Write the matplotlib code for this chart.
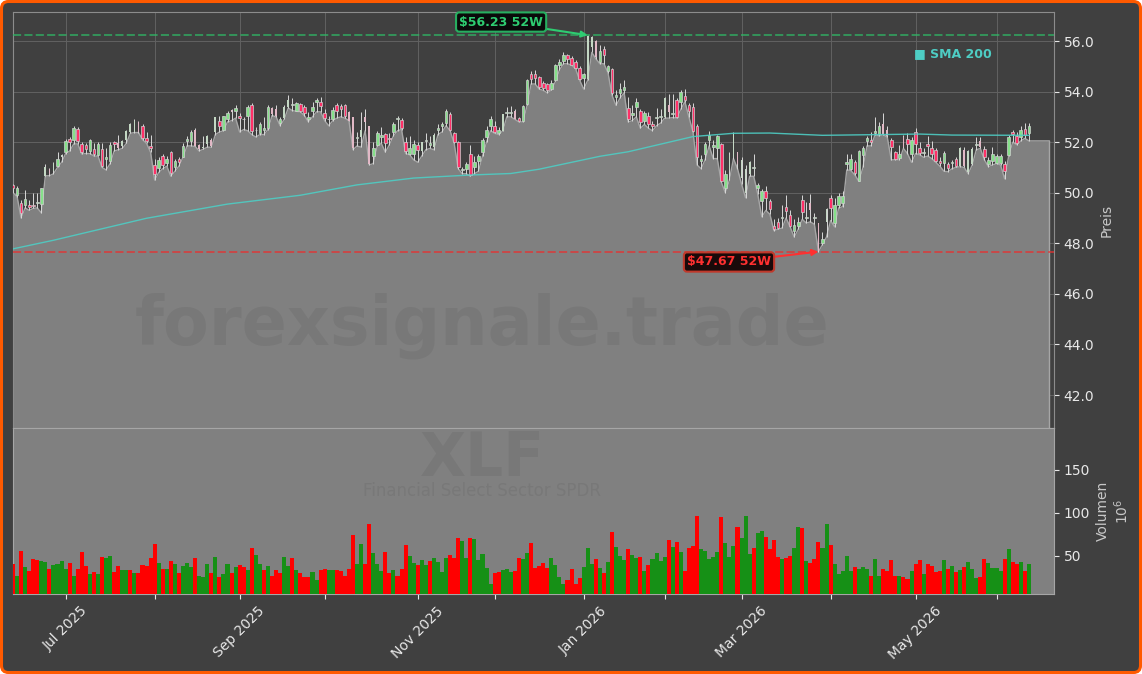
import matplotlib
matplotlib.use('Agg')
import matplotlib.pyplot as plt
from matplotlib.patches import FancyBboxPatch, Rectangle
from matplotlib.transforms import IdentityTransform
import numpy as np

# Kursdaten, 252 Handelstage
opens = [
    50.3, 49.92, 49.6, 49.5, 49.5, 49.5, 49.6, 49.55, 50.67, 50.95,
    50.87, 51.07, 51.4, 51.6, 52.12, 52.08, 52.52, 51.93, 51.87, 51.65,
    51.73, 51.5, 51.73, 51.32, 51.24, 52.0, 51.97, 51.85, 52.1, 52.4,
    52.4, 52.8, 52.65, 52.15, 51.85, 51.1, 50.97, 51.45, 51.18, 51.6,
    51.03, 51.33, 51.43, 52.03, 52.06, 52.5, 51.9, 51.75, 51.93, 52.1,
    52.4, 52.85, 52.48, 52.9, 53.27, 53.25, 53.05, 52.93, 53.05, 53.45,
    52.5, 52.37, 52.5, 52.55, 53.35, 53.3, 52.75, 52.95, 53.4, 53.45,
    53.22, 53.5, 53.4, 52.9, 53.25, 53.6, 53.6, 53.15, 52.93, 52.92,
    53.48, 53.43, 53.45, 53.2, 53.0, 52.15, 52.2, 53.0, 52.65, 51.45,
    51.9, 52.2, 52.32, 52.15, 52.4, 52.9, 52.88, 52.0, 51.55, 51.55,
    51.88, 51.65, 52.05, 51.9, 51.8, 52.5, 52.65, 52.75, 53.1, 52.35,
    52.0, 50.9, 50.95, 51.55, 51.0, 51.25, 51.63, 52.2, 52.62, 52.63,
    52.35, 52.45, 53.15, 53.15, 53.25, 52.95, 52.85, 53.5, 54.68, 54.7,
    54.57, 54.33, 54.3, 54.1, 54.45, 55.07, 55.22, 55.43, 55.33, 55.15,
    54.95, 54.55, 54.5, 55.75, 56.0, 55.15, 55.7, 54.8, 54.9, 53.78,
    53.93, 54.07, 53.35, 53.08, 53.38, 53.22, 52.82, 53.05, 52.7, 52.95,
    53.0, 53.0, 53.47, 53.1, 53.67, 53.58, 53.83, 53.45, 53.4, 52.65,
    51.25, 51.55, 52.08, 51.82, 51.75, 51.92, 50.18, 50.9, 51.4, 51.6,
    50.6, 50.0, 50.75, 50.98, 50.17, 49.67, 50.05, 49.67, 48.7, 48.85,
    49.0, 49.45, 49.12, 48.48, 48.7, 49.7, 49.0, 49.6, 49.0, 48.8,
    48.0, 48.85, 49.8, 48.8, 49.5, 49.6, 51.15, 50.93, 51.2, 50.47,
    51.5, 52.05, 52.1, 52.38, 52.33, 52.7, 52.5, 52.1, 51.6, 51.38,
    52.2, 52.12, 51.55, 52.4, 51.75, 51.57, 51.92, 51.78, 51.7, 51.25,
    51.17, 51.13, 51.18, 51.33, 51.07, 51.7, 50.8, 51.13, 51.88, 52.03,
    51.73, 51.15, 51.27, 51.18, 51.18, 51.13, 51.5, 52.4, 52.25, 52.2,
    52.52, 52.35,
]
closes = [
    50.2, 50.2, 49.2, 49.75, 49.45, 49.48, 49.6, 50.2, 51.0, 50.75,
    51.17, 51.33, 51.5, 52.05, 52.0, 52.56, 52.03, 51.6, 51.73, 52.08,
    51.55, 51.93, 51.05, 51.43, 51.9, 51.93, 51.77, 52.05, 52.45, 52.72,
    52.85, 52.4, 52.15, 52.05, 51.75, 50.75, 51.3, 51.1, 51.33, 50.77,
    51.25, 51.2, 51.85, 52.13, 52.42, 51.83, 51.73, 51.8, 52.25, 51.85,
    53.0, 52.65, 53.02, 53.17, 53.2, 53.35, 52.95, 52.9, 53.4, 52.45,
    52.47, 52.72, 52.55, 53.4, 53.1, 53.05, 52.9, 53.4, 53.65, 53.5,
    53.55, 53.25, 53.15, 53.0, 53.4, 53.67, 53.42, 52.95, 52.9, 53.27,
    53.22, 53.3, 53.05, 52.85, 51.75, 52.2, 52.5, 52.8, 51.15, 51.75,
    52.35, 52.28, 51.95, 52.12, 52.7, 52.95, 52.55, 51.65, 51.75, 51.93,
    51.7, 52.0, 52.1, 51.95, 52.3, 52.55, 52.72, 53.22, 52.5, 52.0,
    51.03, 50.95, 51.15, 50.7, 51.2, 51.45, 52.08, 52.5, 52.9, 52.4,
    52.5, 53.1, 53.2, 53.2, 52.9, 52.82, 53.42, 54.45, 54.5, 54.55,
    54.17, 54.15, 54.05, 54.35, 55.05, 55.17, 55.45, 55.3, 55.07, 54.95,
    54.5, 54.7, 56.2, 56.15, 55.35, 55.6, 55.45, 55.0, 53.93, 53.87,
    54.1, 54.17, 52.92, 53.17, 53.57, 52.78, 53.15, 52.7, 52.65, 53.0,
    53.05, 53.75, 53.2, 53.15, 53.0, 54.0, 53.65, 53.25, 52.45, 51.4,
    51.35, 51.93, 52.3, 51.88, 52.25, 50.47, 50.75, 51.5, 52.35, 51.13,
    51.3, 50.95, 51.2, 51.0, 50.3, 50.05, 49.78, 49.35, 48.55, 48.6,
    49.02, 49.28, 48.7, 48.72, 48.85, 49.25, 49.05, 49.3, 49.05, 47.7,
    48.15, 49.35, 49.4, 49.5, 49.88, 49.88, 51.2, 51.33, 50.78, 51.65,
    51.75, 52.15, 52.0, 52.43, 52.65, 52.33, 52.25, 51.8, 51.35, 51.55,
    51.8, 51.92, 52.1, 51.93, 51.57, 51.6, 51.83, 51.55, 51.25, 51.17,
    51.58, 50.97, 51.2, 51.07, 51.77, 51.07, 51.65, 51.73, 51.92, 51.8,
    51.4, 51.28, 51.55, 51.45, 51.45, 50.85, 52.2, 52.32, 51.95, 52.48,
    52.28, 52.65,
]
highs = [
    50.35, 50.26, 49.7, 50.1, 49.7, 50.0, 50.0, 50.2, 51.15, 50.97,
    51.2, 51.6, 51.55, 52.12, 52.2, 52.65, 52.6, 52.0, 51.97, 52.12,
    51.95, 52.0, 51.95, 51.75, 52.0, 52.05, 52.3, 52.1, 52.5, 52.75,
    52.9, 52.85, 52.7, 52.4, 52.3, 51.35, 51.4, 51.55, 51.45, 51.65,
    51.35, 51.4, 51.95, 52.25, 52.5, 52.55, 51.93, 52.25, 52.28, 52.15,
    53.0, 53.05, 53.05, 53.25, 53.3, 53.45, 53.15, 53.0, 53.45, 53.55,
    52.6, 52.8, 53.0, 53.45, 53.4, 53.45, 53.0, 53.45, 53.85, 53.75,
    53.6, 53.55, 53.45, 53.2, 53.6, 53.75, 53.8, 53.3, 53.05, 53.4,
    53.55, 53.5, 53.5, 53.25, 53.0, 52.4, 53.2, 53.3, 52.65, 52.0,
    52.45, 52.6, 52.35, 52.38, 52.78, 53.05, 52.95, 52.2, 52.25, 52.1,
    52.0, 52.0, 52.35, 52.25, 52.35, 52.7, 52.8, 53.3, 53.2, 52.4,
    52.05, 51.0, 51.2, 51.88, 51.45, 51.55, 52.15, 52.65, 53.05, 52.85,
    52.6, 53.1, 53.4, 53.42, 53.3, 53.0, 53.45, 54.5, 54.8, 54.85,
    54.6, 54.4, 54.35, 54.45, 55.1, 55.3, 55.55, 55.5, 55.4, 55.25,
    55.0, 54.75, 56.23, 56.2, 56.05, 55.85, 55.8, 55.05, 54.95, 54.05,
    54.35, 54.45, 53.78, 53.45, 53.75, 53.3, 53.25, 53.2, 52.85, 53.35,
    53.3, 53.8, 53.9, 53.9, 53.75, 54.05, 54.1, 53.55, 53.55, 52.7,
    51.5, 52.0, 52.45, 52.1, 52.3, 51.95, 50.9, 51.6, 52.4, 51.6,
    51.4, 51.1, 51.25, 51.55, 50.4, 50.15, 50.25, 49.75, 48.95, 49.0,
    49.5, 49.9, 49.3, 48.95, 49.05, 49.9, 49.65, 49.95, 49.2, 48.8,
    48.45, 49.4, 49.9, 49.8, 50.0, 50.05, 51.55, 51.55, 51.3, 51.7,
    51.85, 52.25, 52.4, 52.98, 52.8, 53.15, 52.65, 52.15, 51.65, 51.9,
    52.3, 52.35, 52.2, 52.55, 52.0, 51.75, 52.25, 52.05, 51.75, 51.4,
    51.65, 51.2, 51.3, 51.4, 51.8, 51.8, 51.7, 51.8, 52.2, 52.2,
    51.85, 51.4, 51.8, 51.55, 51.55, 51.25, 52.3, 52.5, 52.4, 52.65,
    52.75, 52.75,
]
lows = [
    50.0, 49.85, 49.0, 49.4, 49.3, 49.38, 49.4, 49.2, 50.67, 50.67,
    50.75, 51.0, 51.2, 51.55, 51.65, 51.93, 51.93, 51.53, 51.55, 51.55,
    51.45, 51.45, 51.0, 50.9, 51.15, 51.65, 51.7, 51.75, 51.95, 52.35,
    52.38, 52.38, 52.1, 51.95, 51.6, 50.5, 50.8, 50.95, 51.05, 50.65,
    50.85, 51.05, 51.4, 51.85, 51.85, 51.83, 51.65, 51.72, 51.8, 51.8,
    52.3, 52.4, 52.45, 52.8, 52.85, 52.95, 52.4, 52.5, 52.45, 52.3,
    52.2, 52.3, 52.3, 52.5, 53.05, 53.0, 52.65, 52.9, 53.35, 53.25,
    53.22, 53.2, 53.05, 52.8, 53.0, 53.2, 53.2, 52.85, 52.65, 52.85,
    52.95, 53.0, 52.95, 52.85, 51.7, 51.85, 51.8, 52.45, 51.1, 51.15,
    51.85, 51.95, 51.6, 51.9, 52.25, 52.45, 52.5, 51.55, 51.5, 51.3,
    51.2, 51.45, 51.7, 51.75, 51.7, 52.3, 52.4, 52.65, 52.45, 51.95,
    50.95, 50.75, 50.75, 50.65, 50.75, 50.85, 51.45, 52.0, 52.45, 52.35,
    52.3, 52.45, 53.0, 53.0, 52.9, 52.8, 52.8, 53.45, 54.3, 54.3,
    54.1, 54.05, 53.95, 54.05, 54.4, 54.85, 55.1, 55.1, 55.05, 54.9,
    54.45, 54.1, 54.45, 55.55, 55.3, 55.1, 55.1, 54.75, 53.85, 53.45,
    53.75, 53.95, 52.8, 52.85, 53.0, 52.55, 52.7, 52.55, 52.45, 52.65,
    52.75, 52.95, 52.95, 52.97, 52.95, 53.3, 53.6, 53.0, 52.4, 51.1,
    50.95, 51.3, 51.85, 51.35, 51.35, 50.42, 50.0, 50.5, 51.35, 50.95,
    50.35, 49.8, 50.65, 50.65, 49.95, 49.05, 49.3, 49.15, 48.5, 48.55,
    48.6, 49.0, 48.65, 48.25, 48.55, 48.95, 48.8, 48.85, 48.75, 47.67,
    47.95, 48.25, 48.9, 48.65, 49.4, 49.45, 50.9, 50.88, 50.7, 50.45,
    51.0, 51.85, 51.85, 52.3, 52.25, 52.3, 52.2, 51.3, 51.3, 51.3,
    51.75, 51.55, 51.2, 51.55, 51.5, 51.4, 51.45, 51.35, 51.2, 51.05,
    50.85, 50.83, 50.95, 51.0, 51.03, 51.0, 50.75, 51.1, 51.7, 51.75,
    51.3, 51.03, 51.1, 51.15, 51.1, 50.55, 51.45, 52.0, 51.9, 52.05,
    52.15, 52.05,
]
# Kerzen, die im Original blass und ohne Rand erscheinen
pale_days = [8, 9, 10, 12, 26, 27, 28, 29, 30, 31, 45, 46, 47, 48, 49, 50, 54, 64, 65, 67, 68,
             83, 84, 86, 87, 88, 101, 104, 121, 124, 142, 143, 144, 161, 162,
             177, 178, 179, 180, 181, 182, 197, 199, 201, 215, 216, 220, 234, 235, 236, 237, 239]

volumes = [
    40, 26, 56, 37, 32, 46, 45, 44, 43, 34,
    39, 40, 44, 34, 41, 26, 34, 54, 38, 29,
    31, 29, 48, 47, 50, 31, 38, 33, 33, 33,
    30, 30, 39, 38, 47, 64, 41, 34, 34, 44,
    40, 30, 38, 41, 37, 47, 26, 25, 40, 30,
    48, 25, 29, 40, 30, 37, 39, 37, 33, 59,
    51, 40, 33, 38, 26, 33, 30, 48, 38, 47,
    33, 30, 25, 25, 31, 22, 33, 34, 33, 33,
    33, 32, 27, 34, 74, 40, 64, 40, 87, 53,
    40, 32, 54, 30, 33, 27, 34, 62, 50, 41,
    39, 45, 39, 44, 47, 43, 31, 47, 51, 47,
    71, 67, 47, 71, 69, 45, 52, 36, 17, 30,
    31, 33, 34, 31, 32, 47, 46, 53, 65, 36,
    38, 41, 36, 47, 39, 25, 17, 22, 35, 17,
    24, 37, 59, 40, 46, 36, 30, 43, 78, 60,
    50, 45, 58, 51, 47, 48, 32, 39, 46, 53,
    44, 48, 68, 60, 66, 54, 32, 59, 61, 96,
    58, 55, 46, 48, 54, 95, 65, 48, 61, 83,
    71, 96, 52, 59, 76, 79, 72, 58, 68, 48,
    46, 47, 50, 59, 83, 82, 44, 41, 46, 66,
    59, 87, 62, 40, 29, 32, 50, 32, 37, 34,
    37, 34, 26, 46, 27, 34, 32, 45, 27, 26,
    25, 23, 32, 40, 45, 29, 40, 38, 31, 32,
    45, 34, 38, 31, 33, 37, 43, 34, 24, 25,
    46, 41, 36, 36, 32, 46, 58, 43, 40, 43,
    32, 40,
]
# u = gruener Volumenbalken, d = roter Balken
volume_dirs = (
    "dududddUUd"
    "uuuududddu"
    "duduudduud"
    "udddddudud"
    "uduuuduuud"
    "uduududdud"
    "uududdduud"
    "uddduudduu"
    "ddddduuddu"
    "u"
    "uddudddUUd"
    "uuduuuuddd"
    "uuduuuuudd"
    "uuudduuddd"
    "dduuuudddd"
    "uuududuDuu"
    "uduududuuu"
    "udududdddu"
    "uuuuduuudu"
    "uudu"
    "uddddudduu"
    "duddduuduu"
    "uuuduuuduu"
    "dddduddudd"
    "uddddududu"
    "duuudduuuu"
    "duddudu"
).lower()

sma_days = [0, 10, 33, 53, 71, 85, 99, 113, 123, 130, 145, 152, 168, 178, 187, 200, 205, 224, 232, 251]
sma_values = [47.78, 48.12, 48.99, 49.55, 49.9, 50.31, 50.58, 50.7, 50.76, 50.93, 51.44, 51.62,
              52.22, 52.35, 52.36, 52.27, 52.28, 52.32, 52.28, 52.27]

tick_days = [13, 35, 56, 77, 100, 119, 141, 161, 180, 202, 223, 243]
tick_labels = ['Jul 2025', '', 'Sep 2025', '', 'Nov 2025', '', 'Jan 2026', '', 'Mar 2026', '', 'May 2026', '']

high_52w = 56.23
low_52w = 47.67
high_day = 142
low_day = 199

bg_color = '#404040'
area_color = '#808080'
up_color = '#86e08a'
down_color = '#ff3068'
sma_color = '#4ecdc4'
text_color = '#e8e8e8'

fig = plt.figure(figsize=(11.42, 6.74), dpi=100, facecolor='white')
fig.add_artist(FancyBboxPatch((1.5, 1.5), 1139, 671, boxstyle='round,pad=0,rounding_size=7',
                              transform=IdentityTransform(), fc=bg_color, ec='#ff5a00', lw=2.2, zorder=-5))

ax = fig.add_axes([13 / 1142, 246 / 674, 1041 / 1142, 416 / 674], facecolor=bg_color)
ax_vol = fig.add_axes([13 / 1142, 80 / 674, 1041 / 1142, 166 / 674], facecolor=area_color)

days = np.arange(len(opens))
last_day = days[-1] + 5

# Flaeche unter den Tiefs, am Ende flach weitergezogen
area_x = np.append(days, last_day)
area_y = np.append(lows, lows[-1])
ax.fill_between(area_x, area_y, 30, color=area_color, lw=0, zorder=2)
ax.plot(area_x, area_y, color='#a6a6a6', lw=1, zorder=2.5)
ax.plot([last_day, last_day], [lows[-1], 30], color='#a6a6a6', lw=1, zorder=2.5)

# Kerzen
for d, o, c, h, l in zip(days, opens, closes, highs, lows):
    ax.plot([d, d], [l, h], color='#d8d8d8', lw=0.7, zorder=3, solid_capstyle='butt')
    up = c >= o
    if d in pale_days:
        col = '#c4d8c4' if up else '#e2b8c6'
        ax.add_patch(Rectangle((d - 0.22, min(o, c)), 0.44, max(abs(c - o), 0.03), fc=col, ec='none', zorder=4))
    else:
        col = up_color if up else down_color
        ax.add_patch(Rectangle((d - 0.33, min(o, c)), 0.66, max(abs(c - o), 0.03), fc=col, ec='#d0d0d0', lw=0.5, zorder=4))

ax.plot(sma_days, sma_values, color=sma_color, lw=1, alpha=0.9, zorder=5)

ax.axhline(high_52w, color='#2fb866', ls=(0, (4.5, 1.8)), lw=1.3, alpha=0.75, zorder=6)
ax.axhline(low_52w, color='#e83030', ls=(0, (4.5, 1.8)), lw=1.3, alpha=0.75, zorder=6)

ax.annotate(f'${high_52w:.2f} 52W', xy=(high_day, high_52w), xytext=(120.6, 56.75), ha='center', va='center',
            color='#2ecc71', fontsize=9, fontweight='bold', zorder=8,
            bbox=dict(boxstyle='round,pad=0.25', fc='#0a0a0a', ec='#27ae60', lw=1.5),
            arrowprops=dict(arrowstyle='-|>', color='#2ecc71', lw=1.5, shrinkA=0, shrinkB=0))
ax.annotate(f'${low_52w:.2f} 52W', xy=(low_day, low_52w), xytext=(176.9, 47.26), ha='center', va='center',
            color='#ff3030', fontsize=9, fontweight='bold', zorder=8,
            bbox=dict(boxstyle='round,pad=0.25', fc='#1a0a0a', ec='#c0392b', lw=1.5),
            arrowprops=dict(arrowstyle='-|>', color='#ff3030', lw=1.5, shrinkA=0, shrinkB=0))

ax.text(0.8655, 0.9, '■ SMA 200', transform=ax.transAxes, color=sma_color, fontsize=9, fontweight='bold',
        va='center', ha='left', zorder=8)

ax.set_xlim(0, 257.2)
ax.set_ylim(40.695, 57.147)
ax.set_yticks(np.arange(42, 57, 2))
ax.set_yticklabels([f'{v:.1f}' for v in np.arange(42, 57, 2)])
ax.yaxis.tick_right()
ax.yaxis.set_label_position('right')
ax.set_ylabel('Preis', color='#c8c8c8', fontsize=10, labelpad=4)
ax.set_xticks(tick_days)
ax.set_xticklabels([])
ax.tick_params(axis='x', length=0)
ax.tick_params(axis='y', colors=text_color, labelsize=10)
ax.grid(True, color='#626262', lw=0.7, zorder=1)
ax.set_axisbelow(True)
for s in ax.spines.values():
    s.set_color('#8c8c8c')
ax.spines['bottom'].set_color('#a6a6a6')

# Volumen
vol_x = np.arange(len(volumes))
bar_cols = ['#169016' if v == 'u' else '#ff0000' for v in volume_dirs]
ax_vol.bar(vol_x, volumes, width=1.0, color=bar_cols, lw=0, zorder=3)
ax_vol.set_xlim(0, 257.2)
ax_vol.set_ylim(5.5, 198.5)
ax_vol.set_yticks([50, 100, 150])
ax_vol.yaxis.tick_right()
ax_vol.yaxis.set_label_position('right')
ax_vol.set_ylabel('Volumen\n$10^{6}$', color='#c8c8c8', fontsize=10, labelpad=4)
ax_vol.set_xticks(tick_days)
ax_vol.set_xticklabels(tick_labels, rotation=45, ha='center')
ax_vol.tick_params(axis='both', colors=text_color, labelsize=10)
for s in ax_vol.spines.values():
    s.set_color('#a6a6a6')

# Wasserzeichen
fig.text(482 / 1142, 1 - 326 / 674, 'forexsignale.trade', color='black', alpha=0.06, fontsize=48,
         fontweight='bold', ha='center', va='center')
fig.text(482 / 1142, 1 - 460 / 674, 'XLF', color='black', alpha=0.06, fontsize=43,
         fontweight='bold', ha='center', va='center')
fig.text(482 / 1142, 1 - 491 / 674, 'Financial Select Sector SPDR', color='black', alpha=0.06, fontsize=12,
         ha='center', va='center')

fig.savefig('out.png', dpi=100)
